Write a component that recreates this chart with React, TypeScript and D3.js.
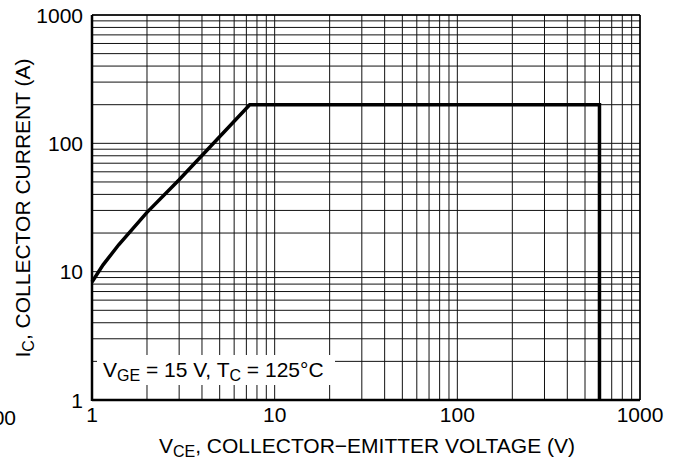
import React from 'react';
import * as d3 from 'd3';

// Safe operating area, Tc = 125 C
const vce = [1, 1.15, 1.4, 2, 3, 7.3, 600, 600];
const ic = [8.3, 11.3, 16.2, 29, 52, 200, 200, 1];

const xTickLabels = [1, 10, 100, 1000];
const yTickLabels = [1, 10, 100, 1000];

const W = 676;
const H = 466;
const FONT = '"Liberation Sans", Arial, Helvetica, sans-serif';
const FS = 21;
const SUB = 16;

const App = () => {
  const margin = { top: 15, right: 36, bottom: 66, left: 92 };
  const x = d3.scaleLog().domain([1, 1000]).range([margin.left, W - margin.right]);
  const y = d3.scaleLog().domain([1, 1000]).range([H - margin.bottom, margin.top]);

  const [x0, x1] = x.range();
  const [y0, y1] = y.range();

  const pts = vce.map((v, i) => [v, ic[i]] as [number, number]);
  const line = d3.line<[number, number]>()
    .x(d => x(d[0]))
    .y(d => y(d[1]));

  return (
    <svg width={W} height={H} style={{ position: 'absolute', left: 0, top: 0, background: '#fff' }}
      fontFamily={FONT}>
      {/* grid */}
      <g stroke="#111" strokeWidth={1}>
        {x.ticks().map(t => (
          <line key={'gx' + t} x1={x(t)} x2={x(t)} y1={y0} y2={y1} />
        ))}
        {y.ticks().map(t => (
          <line key={'gy' + t} x1={x0} x2={x1} y1={y(t)} y2={y(t)} />
        ))}
      </g>

      {/* frame */}
      <line x1={x0} x2={x1} y1={y1} y2={y1} stroke="#000" strokeWidth={1.5} />
      <line x1={x1} x2={x1} y1={y0} y2={y1} stroke="#000" strokeWidth={1.5} />
      <line x1={x0} x2={x0} y1={y0 + 1} y2={y1} stroke="#000" strokeWidth={2.5} />
      <line x1={x0} x2={x1} y1={y0} y2={y0} stroke="#000" strokeWidth={2.5} />

      {/* boundary */}
      <path d={line(pts) ?? ''} fill="none" stroke="#000" strokeWidth={3.5} strokeLinejoin="miter" />

      {/* condition box */}
      <rect x={97} y={355} width={238} height={30} fill="#fff" />
      <text x={103} y={377} fontSize={FS} fill="#000">
        V<tspan fontSize={SUB} dy={4}>GE</tspan>
        <tspan dy={-4}> = 15 V, T</tspan>
        <tspan fontSize={SUB} dy={4}>C</tspan>
        <tspan dy={-4}> = 125°C</tspan>
      </text>

      {/* tick labels */}
      {xTickLabels.map(t => (
        <text key={'xl' + t} x={x(t)} y={y0 + 22} textAnchor="middle" fontSize={FS} fill="#000">{t}</text>
      ))}
      {yTickLabels.map(t => (
        <text key={'yl' + t} x={x0 - 9} y={y(t) + 7.5} textAnchor="end" fontSize={FS} fill="#000">{t}</text>
      ))}
      <text x={16} y={425} textAnchor="end" fontSize={FS} fill="#000">100</text>

      {/* axis titles */}
      <text x={(x0 + x1) / 2 + 1} y={453} textAnchor="middle" fontSize={FS} fill="#000">
        V<tspan fontSize={SUB} dy={4}>CE</tspan>
        <tspan dy={-4}>, COLLECTOR−EMITTER VOLTAGE (V)</tspan>
      </text>
      <text transform="translate(30,208) rotate(-90)" textAnchor="middle" fontSize={FS} fill="#000">
        I<tspan fontSize={SUB} dy={4}>C</tspan>
        <tspan dy={-4}>, COLLECTOR CURRENT (A)</tspan>
      </text>
    </svg>
  );
};

export default App;
